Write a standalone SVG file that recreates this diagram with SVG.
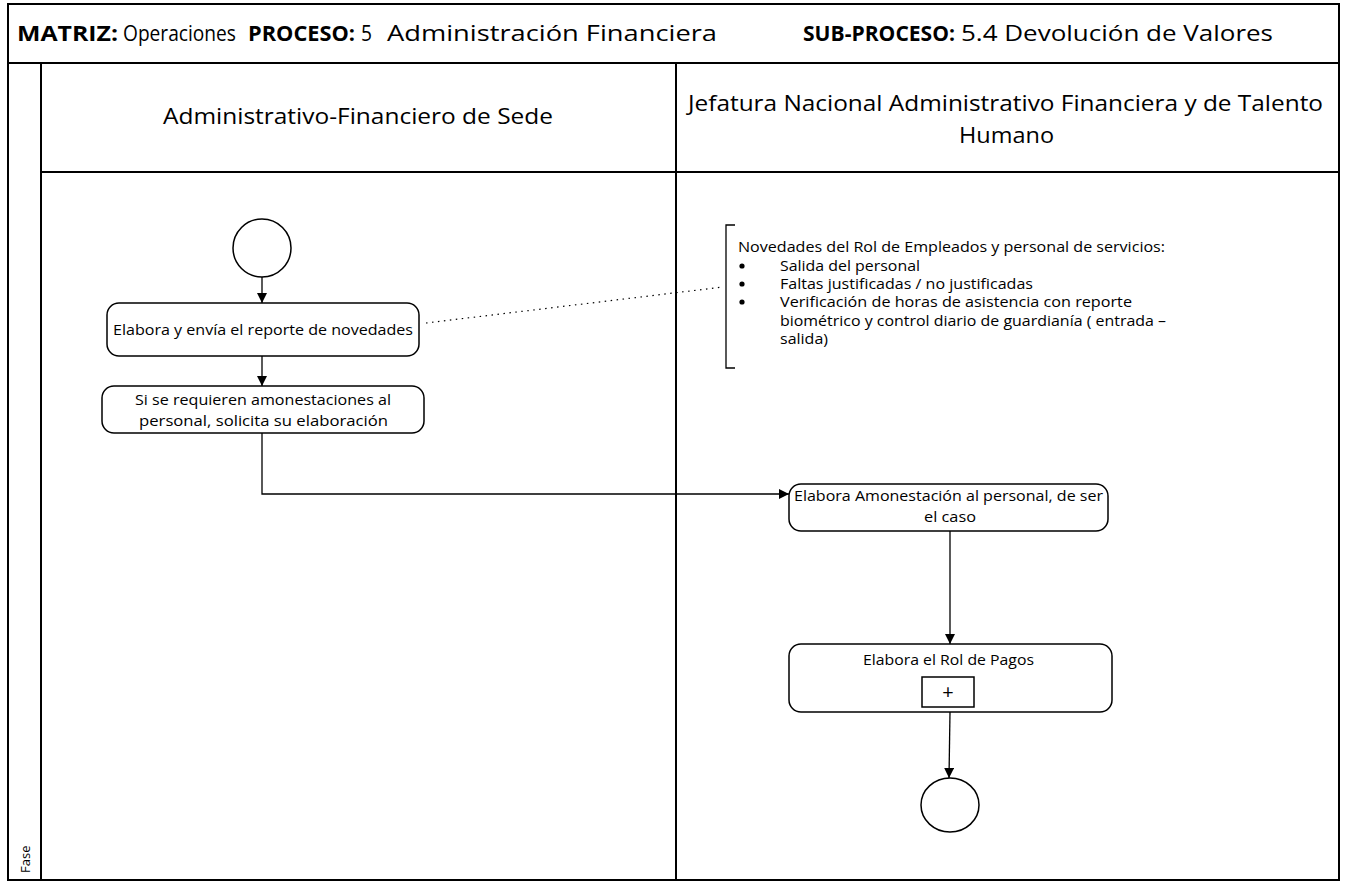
<svg xmlns="http://www.w3.org/2000/svg" width="1345" height="882" viewBox="0 0 1345 882">
  <style>
    text { font-family: "Open Sans", "Noto Sans", "Liberation Sans", sans-serif; fill: #000; }
    .frame { fill: none; stroke: #000; stroke-width: 2; }
    .task { fill: #fff; stroke: #000; stroke-width: 1.5; }
    .event { fill: #fff; stroke: #000; stroke-width: 1.5; }
    .flow { fill: none; stroke: #000; stroke-width: 1.3; }
    .assoc { fill: none; stroke: #000; stroke-width: 1.2; stroke-dasharray: 1.5 4.5; }
    .title { font-size: 21px; }
    .b { font-weight: bold; }
    .lane { font-size: 21px; }
    .lbl { font-size: 15px; }
    .note { font-size: 14px; }
  </style>
  <defs>
    <marker id="arrow" viewBox="0 0 10 10" refX="10" refY="5" markerWidth="10" markerHeight="10" markerUnits="userSpaceOnUse" orient="auto">
      <path d="M0,0 L10,5 L0,10 z" fill="#000"/>
    </marker>
  </defs>

  <rect width="1345" height="882" fill="#fff"/>

  <!-- pool frame and lanes -->
  <g id="pool">
    <rect class="frame" x="8" y="4" width="1331" height="876"/>
    <line class="frame" x1="8" y1="63" x2="1339" y2="63"/>
    <line class="frame" x1="41" y1="63" x2="41" y2="880"/>
    <line class="frame" x1="676" y1="63" x2="676" y2="880"/>
    <line class="frame" x1="41" y1="172" x2="1339" y2="172"/>
    <!-- header line -->
    <text class="title b" x="17" y="41" textLength="101" lengthAdjust="spacingAndGlyphs">MATRIZ:</text>
    <text class="title" x="123" y="41" textLength="113" lengthAdjust="spacingAndGlyphs">Operaciones</text>
    <text class="title b" x="248" y="41" textLength="107" lengthAdjust="spacingAndGlyphs">PROCESO:</text>
    <text class="title" x="361" y="41" textLength="11" lengthAdjust="spacingAndGlyphs">5</text>
    <text class="title" x="387" y="41" textLength="330" lengthAdjust="spacingAndGlyphs">Administración Financiera</text>
    <text class="title b" x="803" y="41" textLength="152" lengthAdjust="spacingAndGlyphs">SUB-PROCESO:</text>
    <text class="title" x="961" y="41" textLength="312" lengthAdjust="spacingAndGlyphs">5.4 Devolución de Valores</text>
    <!-- lane titles -->
    <text class="lane" x="163" y="124" textLength="390" lengthAdjust="spacingAndGlyphs">Administrativo-Financiero de Sede</text>
    <text class="lane" x="688" y="111" textLength="635" lengthAdjust="spacingAndGlyphs">Jefatura Nacional Administrativo Financiera y de Talento</text>
    <text class="lane" x="959" y="143" textLength="95" lengthAdjust="spacingAndGlyphs">Humano</text>
    <text font-size="13" transform="translate(30,873) rotate(-90)">Fase</text>
  </g>

  <!-- connectors -->
  <g id="connectors">
    <line class="flow" x1="262" y1="277" x2="262" y2="303" marker-end="url(#arrow)"/>
    <line class="flow" x1="262" y1="356" x2="262" y2="386" marker-end="url(#arrow)"/>
    <polyline class="flow" points="262,433 262,494 789,494" marker-end="url(#arrow)"/>
    <line class="flow" x1="950" y1="531" x2="950" y2="644" marker-end="url(#arrow)"/>
    <line class="flow" x1="950" y1="712" x2="949" y2="778" marker-end="url(#arrow)"/>
    <line class="assoc" x1="426" y1="323" x2="723" y2="287"/>
  </g>

  <g id="start">
    <circle class="event" cx="262" cy="248" r="29"/>
  </g>

  <g id="task-reporte">
    <rect class="task" x="107" y="303" width="312" height="53" rx="12"/>
    <text class="lbl" x="113" y="335" textLength="300" lengthAdjust="spacingAndGlyphs">Elabora y envía el reporte de novedades</text>
  </g>

  <g id="task-solicita">
    <rect class="task" x="102" y="386" width="322" height="47" rx="12"/>
    <text class="lbl" x="135" y="405" textLength="256" lengthAdjust="spacingAndGlyphs">Si se requieren amonestaciones al</text>
    <text class="lbl" x="139" y="426" textLength="249" lengthAdjust="spacingAndGlyphs">personal, solicita su elaboración</text>
  </g>

  <g id="note-novedades">
    <polyline class="flow" points="735,225 726,225 726,368 735,368"/>
    <text class="note" x="738" y="252" textLength="427" lengthAdjust="spacingAndGlyphs">Novedades del Rol de Empleados y personal de servicios:</text>
    <circle cx="742" cy="266" r="2.6"/>
    <circle cx="742" cy="284" r="2.6"/>
    <circle cx="742" cy="302" r="2.6"/>
    <text class="note" x="780" y="271" textLength="140" lengthAdjust="spacingAndGlyphs">Salida del personal</text>
    <text class="note" x="780" y="289" textLength="253" lengthAdjust="spacingAndGlyphs">Faltas justificadas / no justificadas</text>
    <text class="note" x="780" y="307" textLength="352" lengthAdjust="spacingAndGlyphs">Verificación de horas de asistencia con reporte</text>
    <text class="note" x="780" y="326" textLength="386" lengthAdjust="spacingAndGlyphs">biométrico y control diario de guardianía ( entrada –</text>
    <text class="note" x="780" y="344" textLength="48" lengthAdjust="spacingAndGlyphs">salida)</text>
  </g>

  <g id="task-amonestacion">
    <rect class="task" x="789" y="484" width="319" height="47" rx="12"/>
    <text class="lbl" x="794" y="501" textLength="309" lengthAdjust="spacingAndGlyphs">Elabora Amonestación al personal, de ser</text>
    <text class="lbl" x="924" y="522" textLength="52" lengthAdjust="spacingAndGlyphs">el caso</text>
  </g>

  <g id="task-rol-pagos">
    <rect class="task" x="789" y="644" width="323" height="68" rx="12"/>
    <text class="lbl" x="863" y="665" textLength="171" lengthAdjust="spacingAndGlyphs">Elabora el Rol de Pagos</text>
    <rect class="task" x="922" y="677" width="52" height="30"/>
    <text x="948" y="699" font-size="20" text-anchor="middle">+</text>
  </g>

  <g id="end">
    <ellipse class="event" cx="950" cy="805" rx="29" ry="27"/>
  </g>
</svg>
